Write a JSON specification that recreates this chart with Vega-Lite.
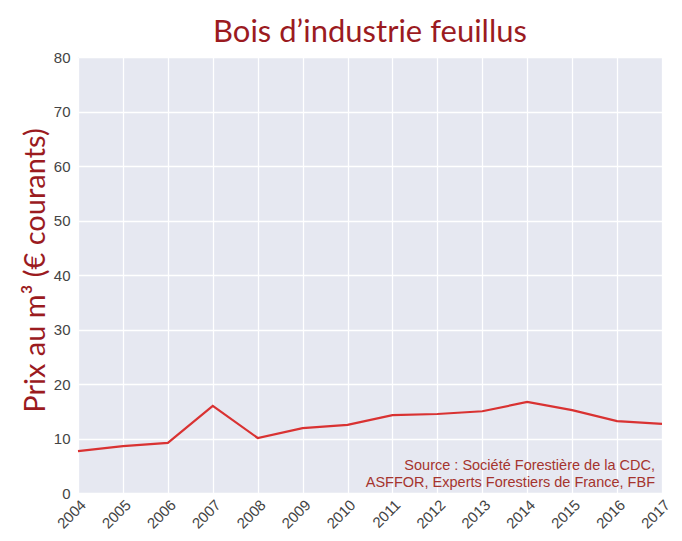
{
  "$schema": "https://vega.github.io/schema/vega-lite/v6.json",
  "autosize": {"type": "none"},
  "width": 584,
  "height": 436,
  "padding": {"left": 78, "top": 57, "right": 20, "bottom": 48},
  "background": "white",
  "title": {
    "text": "Bois d’industrie feuillus",
    "anchor": "middle",
    "frame": "group",
    "font": "Lato",
    "fontSize": 31,
    "fontWeight": "normal",
    "color": "#9b1b1f",
    "offset": 1
  },
  "config": {
    "view": {"fill": "#e6e8f1", "stroke": null},
    "axis": {
      "domain": false,
      "ticks": false,
      "gridColor": "white",
      "gridWidth": 1.3,
      "labelFont": "Liberation Sans",
      "labelFontSize": 15,
      "labelColor": "#444444"
    }
  },
  "datasets": {
    "prix": [
      {"annee": 2004, "prix": 7.7},
      {"annee": 2005, "prix": 8.6},
      {"annee": 2006, "prix": 9.2},
      {"annee": 2007, "prix": 16.0},
      {"annee": 2008, "prix": 10.1},
      {"annee": 2009, "prix": 11.9},
      {"annee": 2010, "prix": 12.5},
      {"annee": 2011, "prix": 14.3},
      {"annee": 2012, "prix": 14.5},
      {"annee": 2013, "prix": 15.0},
      {"annee": 2014, "prix": 16.7},
      {"annee": 2015, "prix": 15.2},
      {"annee": 2016, "prix": 13.2},
      {"annee": 2017, "prix": 12.7}
    ],
    "source": [
      {"annee": 2017, "prix": 5.0, "texte": "Source : Société Forestière de la CDC,"},
      {"annee": 2017, "prix": 1.8, "texte": "ASFFOR, Experts Forestiers de France, FBF"}
    ]
  },
  "layer": [
    {
      "data": {"name": "prix"},
      "mark": {"type": "line", "color": "#d93232", "strokeWidth": 2.2},
      "encoding": {
        "x": {
          "field": "annee",
          "type": "quantitative",
          "scale": {"domain": [2004, 2017], "nice": false, "zero": false},
          "axis": {
            "title": null,
            "values": [2004, 2005, 2006, 2007, 2008, 2009, 2010, 2011, 2012, 2013, 2014, 2015, 2016, 2017],
            "format": "d",
            "labelAngle": -45,
            "labelAlign": "right",
            "labelBaseline": "top",
            "labelPadding": 4,
            "labelOverlap": false,
            "labelFlush": false
          }
        },
        "y": {
          "field": "prix",
          "type": "quantitative",
          "scale": {"domain": [0, 80], "nice": false},
          "axis": {
            "title": "Prix au m³ (€ courants)",
            "values": [0, 10, 20, 30, 40, 50, 60, 70, 80],
            "labelPadding": 8,
            "titleFont": "Lato",
            "titleFontSize": 29,
            "titleFontWeight": "normal",
            "titleColor": "#9b1b1f",
            "titleX": -43,
            "titleY": 213,
            "titleAngle": -90,
            "titleAlign": "center",
            "titleBaseline": "middle"
          }
        }
      }
    },
    {
      "data": {"name": "source"},
      "mark": {
        "type": "text",
        "align": "right",
        "baseline": "middle",
        "dx": -7,
        "font": "Liberation Sans",
        "fontSize": 14.5,
        "color": "#a5342e"
      },
      "encoding": {
        "x": {"field": "annee", "type": "quantitative"},
        "y": {"field": "prix", "type": "quantitative"},
        "text": {"field": "texte"}
      }
    }
  ]
}
